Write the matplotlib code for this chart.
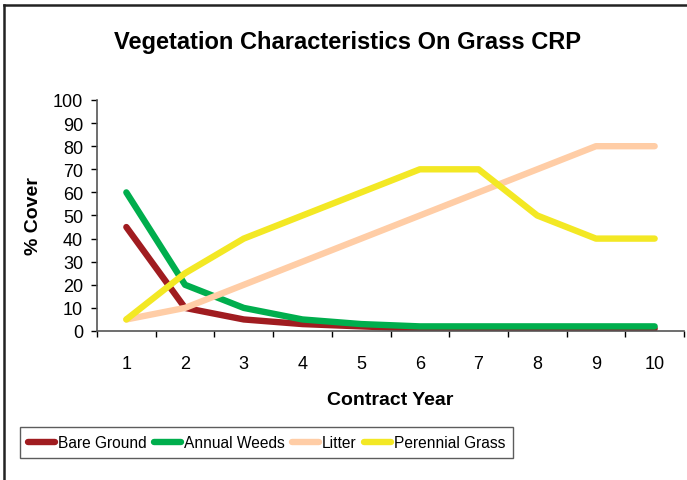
import matplotlib
matplotlib.use("Agg")
import matplotlib.pyplot as plt
from matplotlib.lines import Line2D

plt.rcParams['font.family'] = ['Liberation Sans', 'DejaVu Sans']

years = [1, 2, 3, 4, 5, 6, 7, 8, 9, 10]
bare_ground = [45, 10, 5, 3, 2, 1, 1, 1, 1, 1]
annual_weeds = [60, 20, 10, 5, 3, 2, 2, 2, 2, 2]
litter = [5, 10, 20, 30, 40, 50, 60, 70, 80, 80]
perennial_grass = [5, 25, 40, 50, 60, 70, 70, 50, 40, 40]
series_names = ["Bare Ground", "Annual Weeds", "Litter", "Perennial Grass"]
colors = ["#A01C20", "#00AE4D", "#FFCDA6", "#F3E824"]
y_ticks = list(range(0, 101, 10))

fig = plt.figure(figsize=(6.87, 4.81), dpi=100)
ax = fig.add_axes([97/687, 1-332/481, 587/687, 231/481])

lines = []
for vals, name, c in zip([bare_ground, annual_weeds, litter, perennial_grass], series_names, colors):
    ln, = ax.plot(years, vals, color=c, lw=4.6, label=name,
                  solid_capstyle='round', solid_joinstyle='round')
    lines.append(ln)

ax.set_xlim(0.5, 10.5)
ax.set_ylim(0, 100)
ax.set_yticks(y_ticks)
ax.set_yticklabels([str(v) for v in y_ticks], fontsize=13)
ax.set_xticks([y + 0.5 for y in [0] + years])
ax.set_xticklabels([])
ax.set_xticks(years, minor=True)
ax.set_xticklabels([str(y) for y in years], minor=True, fontsize=13)
ax.tick_params(axis='x', which='minor', length=0, pad=17)
ax.tick_params(axis='x', which='major', length=4, width=1, direction='out')
ax.tick_params(axis='y', length=4, width=1, direction='out', pad=6)
for s in ['top', 'right']:
    ax.spines[s].set_visible(False)
for s in ['left', 'bottom']:
    ax.spines[s].set_color('#555555')
    ax.spines[s].set_linewidth(1.2)

ax.set_xlabel("Contract Year", fontsize=14, fontweight='bold', labelpad=14)
ax.set_ylabel("% Cover", fontsize=14, fontweight='bold', labelpad=8)

fig.text(348/687, 1-42/481, "Vegetation Characteristics On Grass CRP",
         fontsize=17, fontweight='bold', ha='center', va='center')

leg = fig.legend(handles=lines, loc='center', bbox_to_anchor=(266.5/687, 1-443.5/481),
                 ncol=4, prop={'size': 11.2},
                 frameon=True, fancybox=False, shadow=False,
                 handlelength=1.75, handletextpad=0.2, columnspacing=0.45,
                 borderpad=0.5, borderaxespad=0)
leg.get_frame().set_edgecolor('#333333')
leg.get_frame().set_linewidth(1.0)

# figure border (left and top visible)
fig.add_artist(Line2D([4/687, 4/687], [0, 1-6/481], color='#222222', lw=1.8, transform=fig.transFigure))
fig.add_artist(Line2D([4/687, 1], [1-6/481, 1-6/481], color='#222222', lw=1.8, transform=fig.transFigure))

fig.savefig("out.png", dpi=100)
